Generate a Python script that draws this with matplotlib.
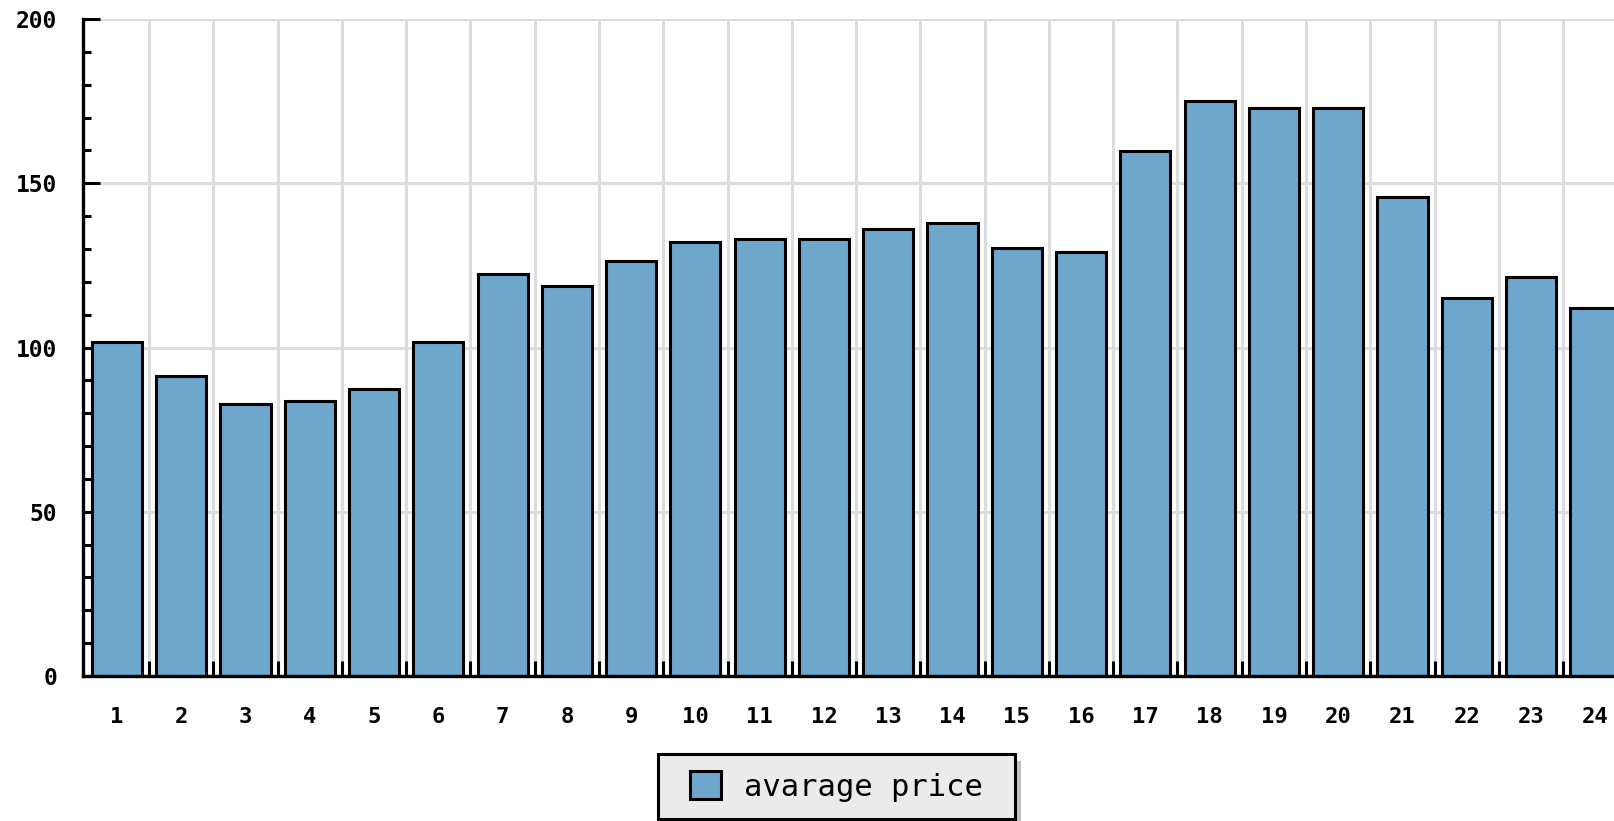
import numpy as np
import matplotlib.pyplot as plt
from matplotlib.patches import Rectangle
from matplotlib.ticker import MultipleLocator, FixedLocator

# --- Daten ---
hours = list(range(1, 25))
avg_price = [101.8, 91.2, 82.7, 83.6, 87.4, 101.8, 122.5, 118.7, 126.2, 132.2,
             133.1, 133.1, 136.0, 137.8, 130.3, 129.1, 159.8, 175.0, 173.0, 173.0,
             145.7, 115.1, 121.6, 112.0]
series_label = "avarage price"

BAR_COLOR = "#6FA6CC"
GRID_COLOR = "#DCDCDC"

plt.rcParams['font.family'] = ['DejaVu Sans Mono']

fig = plt.figure(figsize=(16.15, 8.21), dpi=100)
# Achse reicht rechts ueber den Bildrand hinaus (wie im Original)
ax = fig.add_axes([0.0517, 0.1766, 0.956, 0.8002])

ax.bar(hours, avg_price, width=0.78, color=BAR_COLOR,
       edgecolor="black", linewidth=2.2, label=series_label, zorder=3)

ax.set_xlim(0.48, 24.5)
ax.set_ylim(0, 200)

# x: Beschriftung mittig, Ticks/Gitter an den Grenzen
ax.xaxis.set_major_locator(FixedLocator(hours))
ax.set_xticklabels([str(h) for h in hours], fontweight='bold')
ax.xaxis.set_minor_locator(FixedLocator(np.arange(1.5, 25, 1.0)))
ax.tick_params(axis='x', which='major', length=0, pad=22, labelsize=16)
ax.tick_params(axis='x', which='minor', direction='in', length=11, width=2.2)

# y
ax.yaxis.set_major_locator(MultipleLocator(50))
ax.yaxis.set_minor_locator(MultipleLocator(10))
ax.tick_params(axis='y', which='major', direction='in', length=12, width=2.2,
               pad=19, labelsize=16.5)
ax.tick_params(axis='y', which='minor', direction='in', length=6, width=2.2)
for t in ax.get_yticklabels():
    t.set_fontweight('bold')

ax.grid(True, axis='y', which='major', color=GRID_COLOR, linewidth=2.2, zorder=0)
ax.grid(True, axis='x', which='minor', color=GRID_COLOR, linewidth=2.2, zorder=0)
ax.set_axisbelow(True)

for side in ['top', 'right']:
    ax.spines[side].set_visible(False)
for side in ['left', 'bottom']:
    ax.spines[side].set_linewidth(2.4)
    ax.spines[side].set_zorder(4)

# Legendenrahmen (breiter als der Inhalt) + Schatten
fx, fy, fw, fh = 0.4074, 0.0024, 0.2211, 0.0792
fig.patches.append(Rectangle((fx + 0.004, fy - 0.008), fw, fh, transform=fig.transFigure,
                             facecolor='#C0C0C0', edgecolor='none', zorder=1))
fig.patches.append(Rectangle((fx, fy), fw, fh, transform=fig.transFigure,
                             facecolor='#EBEBEB', edgecolor='black', linewidth=2.2,
                             zorder=2))

leg = fig.legend(loc='center', bbox_to_anchor=(fx + fw / 2, fy + fh / 2), fontsize=22,
                 frameon=False, borderpad=0.45,
                 handlelength=1.0, handleheight=1.0, handletextpad=0.75)

fig.savefig("out.png", dpi=100)
